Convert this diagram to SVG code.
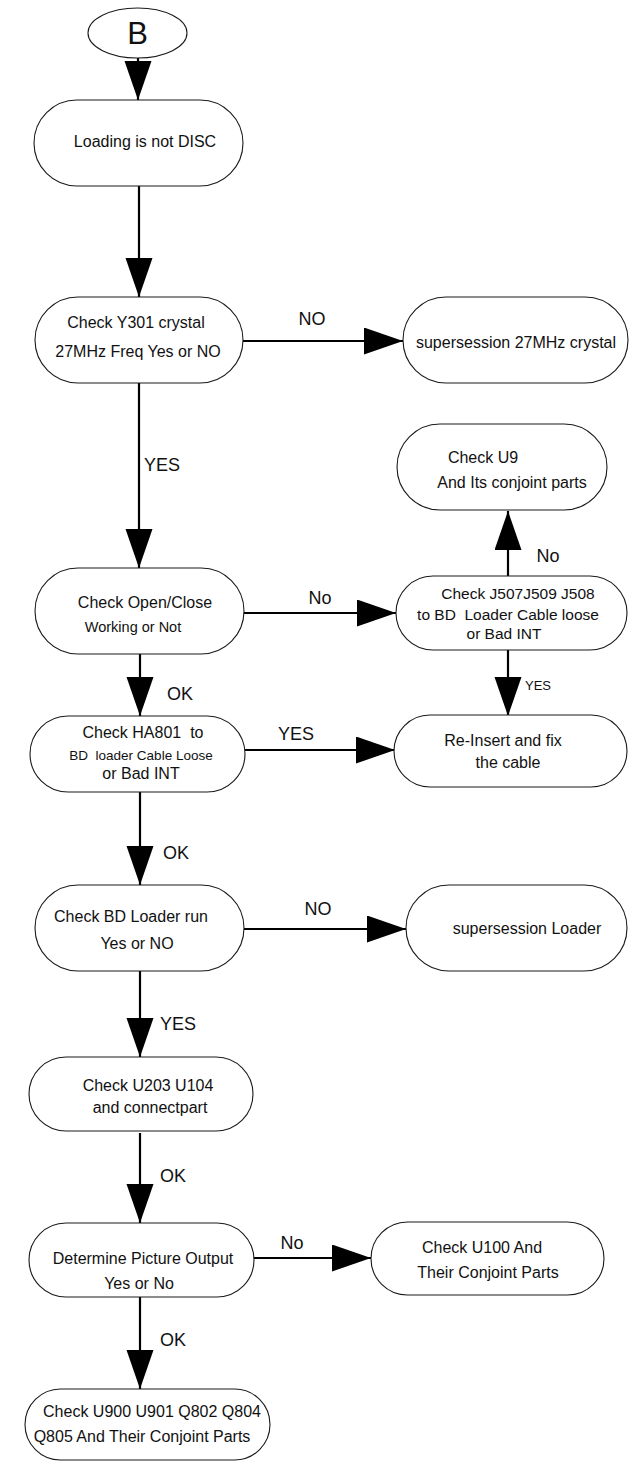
<svg xmlns="http://www.w3.org/2000/svg" width="636" height="1461" viewBox="0 0 636 1461">
<style>
.n{fill:#fff;stroke:#1a1a1a;stroke-width:1.1}
.t{font-family:"Liberation Sans",Arial,sans-serif;font-size:16px;fill:#111;text-anchor:middle;white-space:pre}
.s{font-size:14.5px}
.l{font-family:"Liberation Sans",Arial,sans-serif;font-size:18px;fill:#111;text-anchor:middle}
.c{stroke:#000;stroke-width:2.2;fill:none;marker-end:url(#ah)}
</style>
<defs>
<marker id="ah" markerUnits="userSpaceOnUse" markerWidth="40" markerHeight="28" refX="39" refY="13.5" orient="auto">
<path d="M0,0 L39,13.5 L0,27 z" fill="#000"/>
</marker>
</defs>
<rect width="636" height="1461" fill="#fff"/>
<g id="connectors">
<line class="c" x1="138" y1="58" x2="138" y2="100"/>
<line class="c" x1="139" y1="186" x2="139" y2="297"/>
<line class="c" x1="243" y1="341" x2="403" y2="341"/>
<line class="c" x1="139" y1="383" x2="139" y2="568"/>
<line class="c" x1="244" y1="613" x2="396" y2="613"/>
<line class="c" x1="508" y1="576" x2="508" y2="511"/>
<line class="c" x1="508" y1="650" x2="508" y2="716"/>
<line class="c" x1="140" y1="654" x2="140" y2="716"/>
<line class="c" x1="245" y1="750" x2="395" y2="750"/>
<line class="c" x1="140" y1="792" x2="140" y2="885"/>
<line class="c" x1="244" y1="929" x2="406" y2="929"/>
<line class="c" x1="140" y1="958" x2="140" y2="1057"/>
<line class="c" x1="140" y1="1133" x2="140" y2="1223"/>
<line class="c" x1="254" y1="1258" x2="371" y2="1258"/>
<line class="c" x1="140" y1="1297" x2="140" y2="1389"/>
<text class="l" x="312" y="324.5">NO</text>
<text class="l" x="162" y="471">YES</text>
<text class="l" x="320" y="603.5">No</text>
<text class="l" x="548" y="561.5">No</text>
<text class="l" x="538" y="690" style="font-size:13px">YES</text>
<text class="l" x="180" y="699.5">OK</text>
<text class="l" x="296" y="739.5">YES</text>
<text class="l" x="176" y="858.5">OK</text>
<text class="l" x="318" y="914.5">NO</text>
<text class="l" x="178" y="1029.5">YES</text>
<text class="l" x="173" y="1181.5">OK</text>
<text class="l" x="292" y="1248.5">No</text>
<text class="l" x="173" y="1345.5">OK</text>
</g>
<g id="start">
<ellipse class="n" cx="137.5" cy="33" rx="49.5" ry="25"/>
<text class="t" x="137.5" y="44" style="font-size:31px">B</text>
</g>
<g id="n1">
<rect class="n" x="34" y="100" width="209" height="86" rx="43"/>
<text class="t" x="145" y="146.5">Loading is not DISC</text>
</g>
<g id="n2">
<rect class="n" x="35" y="297" width="208" height="86" rx="43"/>
<text class="t" x="136" y="328">Check Y301 crystal</text>
<text class="t" x="138" y="356.5">27MHz Freq Yes or NO</text>
</g>
<g id="n3">
<rect class="n" x="403" y="297" width="225" height="86" rx="43"/>
<text class="t" x="516" y="348">supersession 27MHz crystal</text>
</g>
<g id="n4">
<rect class="n" x="397" y="424" width="210" height="86" rx="43"/>
<text class="t" x="483" y="463">Check U9</text>
<text class="t" x="512" y="487.5">And Its conjoint parts</text>
</g>
<g id="n5">
<rect class="n" x="35" y="568" width="209" height="86" rx="43"/>
<text class="t" x="145" y="607.5">Check Open/Close</text>
<text class="t s" x="133" y="632">Working or Not</text>
</g>
<g id="n6">
<rect class="n" x="396" y="576" width="231" height="74" rx="37"/>
<text class="t" x="518" y="599" style="font-size:15.5px">Check J507J509 J508</text>
<text class="t" x="508" y="620" style="font-size:15.5px" xml:space="preserve">to BD  Loader Cable loose</text>
<text class="t" x="504" y="639" style="font-size:15.5px">or Bad INT</text>
</g>
<g id="n7">
<rect class="n" x="30" y="716" width="215" height="76" rx="38"/>
<text class="t" x="143" y="738" xml:space="preserve">Check HA801  to</text>
<text class="t" x="141" y="760" style="font-size:13.5px" xml:space="preserve">BD  loader Cable Loose</text>
<text class="t" x="141" y="779">or Bad INT</text>
</g>
<g id="n8">
<rect class="n" x="394" y="715" width="233" height="72" rx="36"/>
<text class="t" x="503" y="746">Re-Insert and fix</text>
<text class="t" x="508" y="768">the cable</text>
</g>
<g id="n9">
<rect class="n" x="35" y="885" width="209" height="86" rx="43"/>
<text class="t" x="131" y="922">Check BD Loader run</text>
<text class="t" x="137" y="949">Yes or NO</text>
</g>
<g id="n10">
<rect class="n" x="406" y="885" width="221" height="86" rx="43"/>
<text class="t" x="527" y="934">supersession Loader</text>
</g>
<g id="n11">
<rect class="n" x="29" y="1057" width="224" height="74" rx="37"/>
<text class="t" x="148" y="1091">Check U203 U104</text>
<text class="t" x="150" y="1113">and connectpart</text>
</g>
<g id="n12">
<rect class="n" x="29" y="1223" width="225" height="74" rx="37"/>
<text class="t" x="143" y="1264">Determine Picture Output</text>
<text class="t" x="139" y="1289">Yes or No</text>
</g>
<g id="n13">
<rect class="n" x="371" y="1222" width="233" height="73" rx="36.5"/>
<text class="t" x="482" y="1253">Check U100 And</text>
<text class="t" x="488" y="1278">Their Conjoint Parts</text>
</g>
<g id="n14">
<rect class="n" x="25" y="1389" width="245" height="71" rx="35.5"/>
<text class="t" x="152" y="1417">Check U900 U901 Q802 Q804</text>
<text class="t" x="142" y="1442">Q805 And Their Conjoint Parts</text>
</g>
</svg>
